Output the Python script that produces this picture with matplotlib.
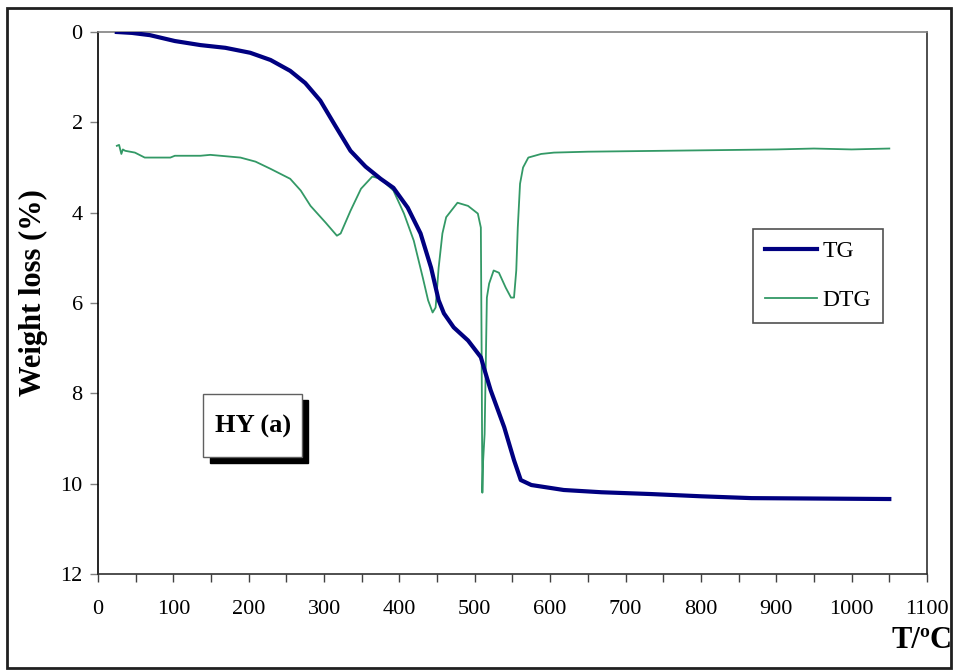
import matplotlib
matplotlib.use("Agg")
import matplotlib.pyplot as plt
from matplotlib.patches import Rectangle
from matplotlib.ticker import MultipleLocator

# TG curve (temperature in C, weight loss in %)
tg_temp = [25, 45, 69, 102, 136, 169, 202, 229, 255, 275, 295, 315, 335, 355, 375,
           392, 411, 428, 442, 452, 459, 472, 491, 508, 512, 521, 539, 552, 561, 575,
           618, 668, 734, 801, 867, 1050]
tg_loss = [0, 0.02, 0.07, 0.2, 0.29, 0.35, 0.46, 0.62, 0.86, 1.13, 1.52, 2.08, 2.63, 2.98, 3.25,
           3.45, 3.89, 4.46, 5.22, 5.94, 6.23, 6.54, 6.83, 7.2, 7.43, 7.93, 8.75, 9.48, 9.92, 10.03,
           10.14, 10.19, 10.23, 10.28, 10.32, 10.34]

# DTG curve (plotted on the same scale)
dtg_temp = [25, 28, 31, 33, 36, 49, 62, 96, 102, 136, 149, 189, 209, 229, 255, 269, 282,
            302, 317, 322, 335, 349, 364, 375, 392, 406, 419, 431, 438, 444, 448, 452, 457,
            462, 477, 491, 504, 508, 509, 510, 511, 513, 516, 519, 525, 532, 541, 548, 552,
            555, 557, 560, 564, 571, 588, 605, 650, 700, 750, 800, 850, 900, 950, 1000, 1050]
dtg_loss = [2.52, 2.5, 2.7, 2.6, 2.63, 2.67, 2.78, 2.78, 2.74, 2.74, 2.72, 2.78, 2.87, 3.03,
            3.25, 3.51, 3.85, 4.22, 4.51, 4.46, 3.96, 3.47, 3.2, 3.25, 3.51, 4.02, 4.62, 5.44,
            5.94, 6.21, 6.1, 5.22, 4.46, 4.1, 3.78, 3.85, 4.02, 4.33, 7.0, 10.2, 9.5, 8.9, 5.88,
            5.57, 5.28, 5.33, 5.66, 5.88, 5.88, 5.28, 4.33, 3.36, 3.0, 2.78, 2.7, 2.67, 2.65,
            2.64, 2.63, 2.62, 2.61, 2.6, 2.58, 2.6, 2.58]

plt.rcParams['font.family'] = ['Liberation Serif', 'DejaVu Serif']

W, H = 954, 671
fig = plt.figure(figsize=(W / 100, H / 100), dpi=100)
ax = fig.add_axes([98 / W, 1 - 574 / H, (927 - 98) / W, (574 - 32) / H])

ax.plot(tg_temp, tg_loss, color="#000080", linewidth=3.0, label="TG", zorder=3)
ax.plot(dtg_temp, dtg_loss, color="#339966", linewidth=1.3, label="DTG", zorder=2)

ax.set_xlim(0, 1100)
ax.set_ylim(12, 0)
ax.xaxis.set_major_locator(MultipleLocator(100))
ax.xaxis.set_minor_locator(MultipleLocator(50))
ax.yaxis.set_major_locator(MultipleLocator(2))

ax.spines["top"].set_color("#808080")
ax.spines["right"].set_color("#303030")
ax.spines["left"].set_color("black")
ax.spines["bottom"].set_color("#303030")
for s in ax.spines.values():
  s.set_linewidth(1.2)

ax.tick_params(axis="x", which="both", direction="out", length=6, width=1, color="#404040",
               labelsize=16, pad=13)
ax.tick_params(axis="y", which="major", direction="out", length=6, width=1, color="#808080",
               labelsize=16, pad=5)

ax.set_ylabel("Weight loss (%)", fontsize=22, fontweight="bold")
ax.yaxis.set_label_coords(-0.06, 0.52)
fig.text(953 / W, 1 - 640 / H, "T/ºC", fontsize=22, fontweight="bold", ha="right", va="center")

leg = ax.legend(loc="upper left", bbox_to_anchor=(753 / W, 1 - 229 / H), bbox_transform=fig.transFigure,
                fancybox=False, edgecolor="#505050", framealpha=1, fontsize=17,
                handlelength=2.2, handletextpad=0.25, labelspacing=1.15, borderpad=0.5,
                borderaxespad=0)
leg.get_frame().set_linewidth(1.2)

# "HY (a)" label box with shadow
fig.patches.append(Rectangle((210 / W, 1 - 463 / H), 98 / W, 63 / H, transform=fig.transFigure,
                             facecolor="black", edgecolor="black", zorder=5))
fig.patches.append(Rectangle((203 / W, 1 - 457 / H), 99 / W, 63 / H, transform=fig.transFigure,
                             facecolor="white", edgecolor="#606060", linewidth=1, zorder=6))
fig.text(253 / W, 1 - 426 / H, "HY (a)", fontsize=19, fontweight="bold", ha="center", va="center",
         zorder=7)

# outer border
fig.patches.append(Rectangle((7 / W, 1 - 668 / H), 944 / W, 660 / H, transform=fig.transFigure,
                             facecolor="none", edgecolor="#202020", linewidth=2, zorder=10))

plt.savefig("out.png", dpi=100)
